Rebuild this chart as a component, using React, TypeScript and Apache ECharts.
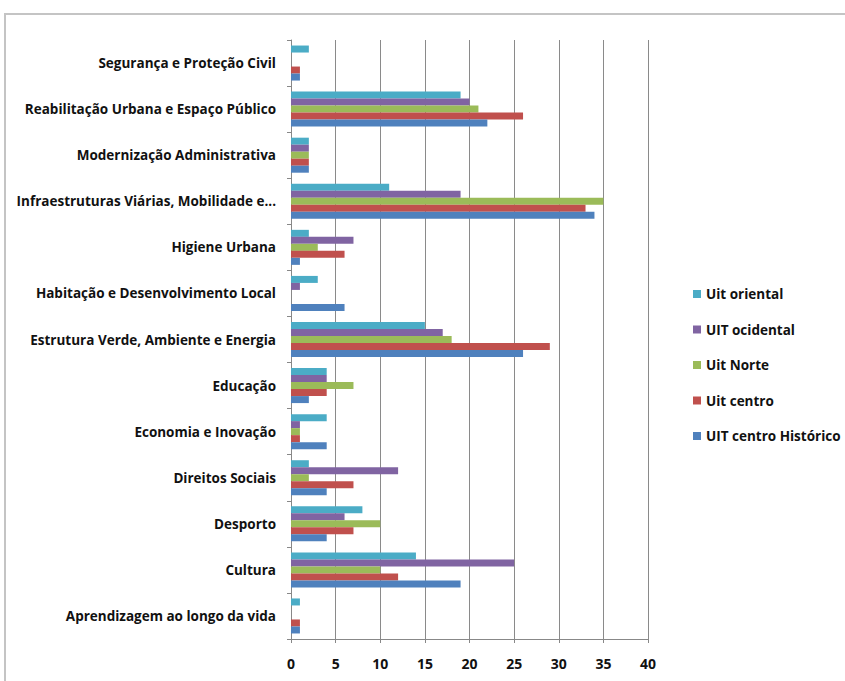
import React, { useEffect, useRef } from "react";
import * as echarts from "echarts";

const categories = [
  "Aprendizagem ao longo da vida",
  "Cultura",
  "Desporto",
  "Direitos Sociais",
  "Economia e Inovação",
  "Educação",
  "Estrutura Verde, Ambiente e Energia",
  "Habitação e Desenvolvimento Local",
  "Higiene Urbana",
  "Infraestruturas Viárias, Mobilidade e...",
  "Modernização Administrativa",
  "Reabilitação Urbana e Espaço Público",
  "Segurança e Proteção Civil",
];

const uitOriental = [1, 14, 8, 2, 4, 4, 15, 3, 2, 11, 2, 19, 2];
const uitOcidental = [0, 25, 6, 12, 1, 4, 17, 1, 7, 19, 2, 20, 0];
const uitNorte = [0, 10, 10, 2, 1, 7, 18, 0, 3, 35, 2, 21, 0];
const uitCentro = [1, 12, 7, 7, 1, 4, 29, 0, 6, 33, 2, 26, 1];
const uitCentroHistorico = [1, 19, 4, 4, 4, 2, 26, 6, 1, 34, 2, 22, 1];

const xTicks = [0, 40, 5];

const seriesDefs = [
  { name: "Uit oriental", data: uitOriental, color: "#4BACC6" },
  { name: "UIT ocidental", data: uitOcidental, color: "#8064A2" },
  { name: "Uit Norte", data: uitNorte, color: "#9BBB59" },
  { name: "Uit centro", data: uitCentro, color: "#C0504D" },
  { name: "UIT centro Histórico", data: uitCentroHistorico, color: "#4F81BD" },
];

const FONT = "'Open Sans', 'Noto Sans', sans-serif";

export default function App() {
  const ref = useRef<HTMLDivElement>(null);
  useEffect(() => {
    if (!ref.current) return;
    const chart = echarts.init(ref.current, null, { renderer: "svg" });
    chart.setOption({
      animation: false,
      backgroundColor: "#ffffff",
      graphic: [
        {
          type: "rect",
          shape: { x: 5, y: 14, width: 900, height: 800 },
          style: { fill: "none", stroke: "#C4C4C4", lineWidth: 2 },
          silent: true,
        },
      ],
      grid: { left: 291, right: 197, top: 40, bottom: 42, containLabel: false },
      legend: {
        orient: "vertical",
        left: 688,
        top: 282,
        itemWidth: 8,
        itemHeight: 8,
        itemGap: 21.5,
        icon: "rect",
        data: seriesDefs.map((s) => s.name),
        textStyle: { fontFamily: FONT, fontWeight: "bold", fontSize: 13.5, color: "#111" },
      },
      xAxis: {
        type: "value",
        min: xTicks[0],
        max: xTicks[1],
        interval: xTicks[2],
        axisLine: { show: true, lineStyle: { color: "#888", width: 1 } },
        axisTick: { show: true, length: 4, lineStyle: { color: "#888" } },
        splitLine: { show: true, lineStyle: { color: "#8A8A8A", width: 1 } },
        axisLabel: { fontFamily: FONT, fontWeight: "bold", fontSize: 14, color: "#111", margin: 17 },
      },
      yAxis: {
        type: "category",
        data: categories,
        axisLine: { show: true, lineStyle: { color: "#888", width: 1 } },
        axisTick: { show: true, length: 4, lineStyle: { color: "#888" } },
        axisLabel: { fontFamily: FONT, fontWeight: "bold", fontSize: 13.5, color: "#111", margin: 15 },
      },
      series: seriesDefs.map((s) => ({
        type: "bar",
        name: s.name,
        data: s.data,
        itemStyle: { color: s.color },
        barGap: "0%",
        barCategoryGap: "24%",
      })),
    });
    return () => chart.dispose();
  }, []);
  return (
    <div
      ref={ref}
      style={{ position: "absolute", left: 0, top: 0, width: 845, height: 681 }}
    />
  );
}
